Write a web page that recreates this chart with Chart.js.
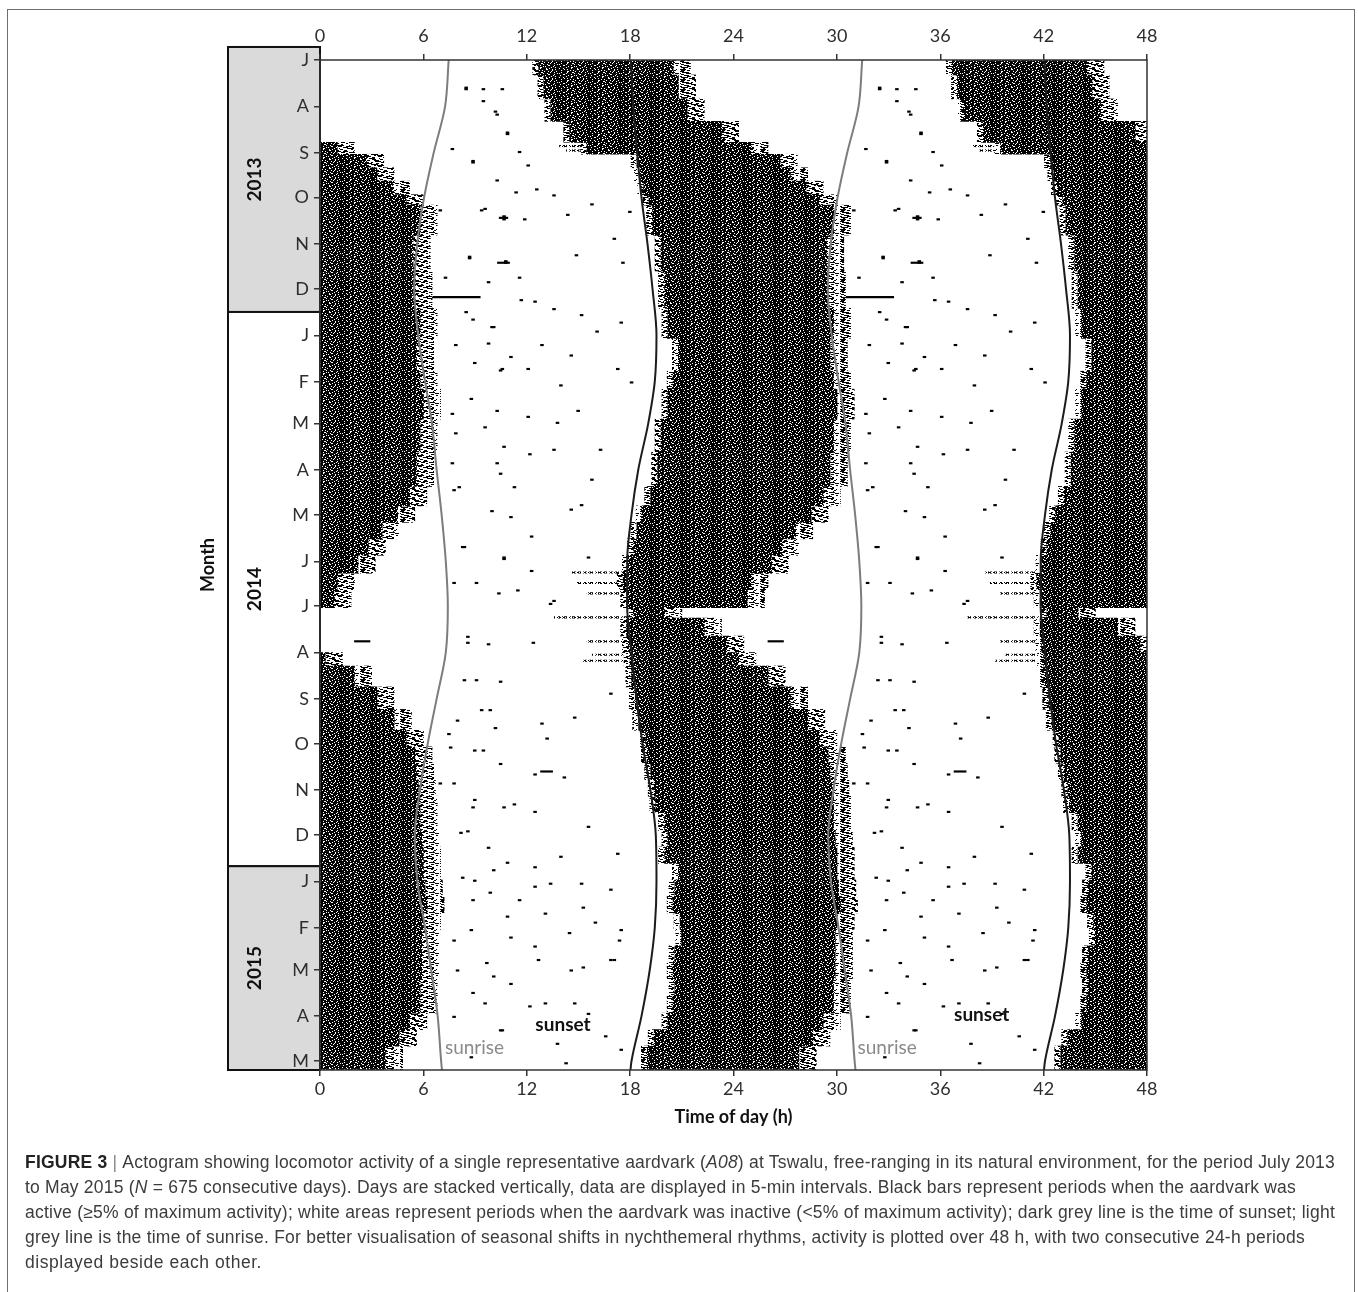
<!DOCTYPE html>
<html lang="en">
<head>
<meta charset="UTF-8">
<title>Actogram A08 Tswalu</title>
<script src="https://cdn.jsdelivr.net/npm/chart.js"></script>
<style>
  html, body { margin: 0; padding: 0; background: #fff; }
  #wrap { position: relative; width: 1358px; height: 1292px; overflow: hidden; }
  #frame { position: absolute; left: 7px; top: 9px; width: 1348px; height: 1300px;
           border: 1.5px solid #6e6e6e; box-sizing: border-box; }
  #chart { position: absolute; left: 0; top: 0; }
  #caption { position: absolute; left: 25px; top: 1150px; color: #3c3c3c;
             font-family: "Liberation Sans", Arial, sans-serif; font-size: 17.5px; line-height: 25px; }
  #caption div { white-space: nowrap; display: table; }
  #caption b { color: #222; }
  #caption .sep { color: #888; }
</style>
</head>
<body>
<div id="wrap">
  <div id="frame"></div>
  <canvas id="chart" width="1358" height="1292"></canvas>
  <div id="caption">
    <div><b>FIGURE 3</b>&nbsp;<span class="sep">|</span>&nbsp;Actogram showing locomotor activity of a single representative aardvark (<i>A08</i>) at Tswalu, free-ranging in its natural environment, for the period July 2013</div>
    <div>to May 2015 (<i>N</i> = 675 consecutive days). Days are stacked vertically, data are displayed in 5-min intervals. Black bars represent periods when the aardvark was</div>
    <div>active (≥5% of maximum activity); white areas represent periods when the aardvark was inactive (&lt;5% of maximum activity); dark grey line is the time of sunset; light</div>
    <div>grey line is the time of sunrise. For better visualisation of seasonal shifts in nychthemeral rhythms, activity is plotted over 48 h, with two consecutive 24-h periods</div>
    <div>displayed beside each other.</div>
  </div>
</div>

<script>
  // days since 1 July 2013 for each month start, and its tick letter
  const monthDays = [0, 31, 62, 92, 123, 153, 184, 215, 243, 274, 304, 335, 365, 396, 427, 457, 488, 518, 549, 580, 608, 639, 669];
  const monthLabels = ['J', 'A', 'S', 'O', 'N', 'D', 'J', 'F', 'M', 'A', 'M', 'J', 'J', 'A', 'S', 'O', 'N', 'D', 'J', 'F', 'M', 'A', 'M'];
  const totalDays = 675;

  // sun times (h) at each month start, last one at the final day
  const sunDays = [...monthDays, totalDays];
  const sunset  = [18.04, 18.18, 18.41, 18.66, 19.01, 19.30, 19.53, 19.43, 19.05, 18.47, 18.08, 17.83,
                   17.83, 18.08, 18.37, 18.72, 19.18, 19.49, 19.53, 19.43, 19.14, 18.66, 18.08, 18.02];
  const sunrise = [7.47, 7.26, 6.60, 6.04, 5.64, 5.47, 5.70, 6.10, 6.50, 6.77, 7.06, 7.30,
                   7.42, 7.30, 6.77, 6.25, 5.80, 5.50, 5.65, 6.10, 6.45, 6.83, 7.03, 7.08];

  // main activity bout, read in blocks of days: start day, onset (h), offset (h, >24 = after midnight)
  const binStart = [0, 10, 26, 41, 55, 63, 72, 81, 90, 97, 117, 141, 166, 186, 208,
                    220, 240, 262, 285, 298, 309, 320, 331, 343, 354, 366, 373, 385, 396, 405, 419, 434,
                    448, 459, 470, 481, 492, 503, 515, 526, 537, 548, 559, 570, 581, 592, 603, 614, 625, 637, 648, 659];
  const onset    = [12.7, 13.0, 13.4, 14.5, 15.5, 18.4, 18.6, 18.8, 19.1, 19.3, 19.8, 20.0, 20.2, 20.8, 20.5,
                    20.2, 19.8, 19.6, 19.2, 18.7, 18.4, 18.2, 17.9, 17.6, 17.8, 18.2, 17.8, 17.9, 18.0, 18.1, 18.3, 18.5,
                    18.9, 19.0, 19.2, 19.4, 19.5, 20.0, 20.2, 20.0, 20.8, 20.6, 20.5, 20.9, 21.0, 20.6, 20.5, 20.6, 20.5, 20.2, 19.4, 19.0];
  const offset   = [20.5, 20.8, 21.3, 23.3, 25.0, 26.7, 27.3, 28.2, 29.0, 29.8, 29.4, 29.5, 29.8, 29.6, 29.8,
                    30.0, 29.8, 29.6, 29.2, 28.5, 27.6, 26.8, 26.2, 25.0, 24.8, 20.0, 22.3, 23.6, 24.3, 26.0, 27.3, 28.3,
                    29.0, 29.5, 29.6, 29.7, 29.8, 29.8, 29.9, 30.0, 30.0, 30.1, 30.2, 30.0, 29.9, 29.9, 29.9, 29.8, 29.8, 29.2, 28.6, 27.8];

  // isolated bouts away from the main block: day, from (h), to (h)
  const boutDay  = [105, 135, 158, 388, 475];
  const boutFrom = [10.4, 10.3, 5.6, 2.0, 12.8];
  const boutTo   = [10.9, 11.0, 9.3, 2.9, 13.5];

  // sparse streaks before onset (winter): day, from (h), to (h)
  const streakDay  = [57, 60, 342, 349, 356, 372, 388, 397, 401];
  const streakFrom = [13.9, 14.3, 14.6, 14.9, 15.5, 13.6, 15.5, 15.8, 15.2];
  const streakTo   = [15.5, 16.0, 17.6, 17.6, 17.8, 18.2, 18.0, 18.0, 18.0];

  // single 5-min active intervals in the resting hours: day, hour of day
  const dotDay  = [70, 86, 90, 96, 101, 103, 106, 119, 130, 135, 161, 166, 170, 175, 181, 190, 197, 206, 215, 206, 217,
                   18, 19, 19, 34, 48, 67, 88, 99, 104, 100, 131, 134, 160, 173, 178, 206, 198,
                   238, 242, 234, 260, 263, 280, 297, 300, 260, 318, 332, 361, 389, 423, 439, 443,
                   226, 234, 249, 269, 325, 332, 285, 349, 354, 389, 414, 434, 441,
                   453, 477, 479, 512, 530, 532, 552, 550, 570, 576, 581, 592, 608, 601, 630, 637, 657, 661,
                   459, 461, 483, 499, 497, 515, 541, 561, 572, 588, 603, 623, 617, 639, 648,
                   19, 27, 36, 49, 59, 68, 61, 80, 100, 106, 135, 132, 145, 148, 145, 168, 178,
                   190, 202, 189, 207, 236, 245, 258, 269, 276, 285, 287, 301, 305, 325, 333, 341, 349, 356, 363,
                   385, 390, 414, 415, 434, 446, 450, 461, 470, 483, 494, 499, 502, 516, 526, 536, 539, 548,
                   546, 556, 561, 550, 566, 554, 581, 586, 583, 588, 608, 612, 601, 606, 601, 630, 632, 630, 648, 652, 670, 666];
  const dotHour = [12.0, 12.5, 13.5, 15.7, 17.9, 14.3, 11.8, 17.0, 14.8, 17.5, 12.4, 13.5, 15.1, 17.4, 16.0, 12.8, 14.5, 17.2, 18.0, 12.0, 13.9,
                   8.4, 9.4, 10.5, 10.1, 10.8, 8.8, 11.3, 9.5, 10.6, 6.9, 8.6, 10.7, 11.6, 8.8, 10.0, 10.5, 11.0,
                   12.0, 13.7, 14.9, 13.5, 12.1, 15.7, 15.1, 14.5, 16.2, 12.2, 15.5, 13.5, 12.3, 16.8, 14.7, 12.8,
                   8.7, 10.2, 7.8, 10.2, 8.3, 10.6, 8.0, 9.0, 11.4, 8.5, 9.0, 9.8, 7.9,
                   13.1, 12.4, 14.1, 15.5, 17.2, 13.9, 12.4, 15.1, 13.0, 15.9, 17.4, 12.4, 14.5, 17.0, 13.0, 15.5, 13.7, 17.4,
                   7.5, 9.4, 6.9, 8.8, 11.2, 8.5, 10.0, 8.8, 10.8, 7.7, 9.6, 8.8, 11.0, 7.7, 10.4,
                   8.4, 9.4, 10.2, 10.8, 7.6, 8.8, 11.5, 10.2, 9.3, 10.6, 10.7, 8.6, 7.2, 9.7, 11.5, 8.4, 9.9,
                   7.8, 8.9, 9.7, 10.4, 7.6, 9.5, 10.6, 7.6, 10.4, 11.2, 7.7, 9.9, 11.0, 8.2, 10.6, 12.2, 7.7, 10.3, 13.3,
                   8.5, 9.7, 8.3, 10.4, 9.3, 10.1, 7.4, 8.9, 10.4, 7.7, 8.9, 10.6, 12.4, 8.1, 9.7, 10.8, 12.4, 8.9,
                   8.2, 9.8, 11.5, 13.3, 15.2, 16.8, 8.7, 11.0, 14.4, 17.3, 7.9, 10.0, 12.6, 15.2, 16.8, 9.5, 12.1, 14.7, 10.5, 16.5, 14.2, 8.7];

  const years = ['2013', '2014', '2015'];
  const yearFrom = [-8.7, 168.4, 538.8];
  const yearTo = [168.4, 538.8, 675];
  const yearFill = ['#dadada', '#ffffff', '#dadada'];

  // sunrise / sunset labels: text, hour, day
  const noteText = ['sunrise', 'sunset', 'sunrise', 'sunset'];
  const noteHour = [7.25, 12.5, 31.2, 36.8];
  const noteDay = [660, 645, 660, 638];

  // ragged edge of the active block (h) and width of one 5-min interval
  const EDGE_BEFORE = 0.35, EDGE_AFTER = 1.0, BIN_H = 5 / 60;

  const canvas = document.getElementById('chart');
  const ctx = canvas.getContext('2d');

  function tile(rows) {
    const c = document.createElement('canvas');
    c.width = rows[0].length; c.height = rows.length;
    const g = c.getContext('2d');
    g.fillStyle = '#000';
    g.fillRect(0, 0, c.width, c.height);
    g.fillStyle = '#fff';
    rows.forEach((r, j) => { for (let i = 0; i < r.length; i++) if (r[i] === '.') g.fillRect(i, j, 1, 1); });
    return ctx.createPattern(c, 'repeat');
  }
  const speckle = tile([
    '###.#####.####..#######.###.###',
    '#.######.#######.###.#########.',
    '#####..######.#######..####.###',
    '##.#######.#####.#.#######.####',
    '########.####..#########.###.##',
    '#.###.#######.#####.##.########',
    '######.##.#########..####.##.##',
    '###.########.##.#########.#####',
    '#########..######.###.##.####.#'
  ]);
  const fringe = tile([
    '.####..###....#####.....###.......##....',
    '####...........######..#####.....#......',
    '..#######..##........####....######.....',
    '#.....######....###.......##.......####.',
    '.###.......#######...##........###......',
    '....#####.....##.#######.....#......##..',
    '##.....####.......####....######........',
    '.#######....###........#####....##......',
    '...##....######....#.......#######......',
    '######......####....###........##...#...'
  ]);
  const dashes = tile(['###..##.#...##..#.###...#.', '#.##..###..#.##..##.#..#..']);

  function binOf(d) {
    let b = 0;
    while (b + 1 < binStart.length && binStart[b + 1] <= d) b++;
    return b;
  }

  const nightRows = [], nextRows = [], morningRows = [], edgeRows = [];
  for (let d = 0; d < totalDays; d++) {
    const b = binOf(d), y = d + 0.5, on = onset[b], off = offset[b];
    nightRows.push({ x: [on, off], y });
    nextRows.push({ x: [on + 24, Math.min(off + 24, 48)], y });
    edgeRows.push({ x: [on - EDGE_BEFORE, on], y }, { x: [on + 24 - EDGE_BEFORE, on + 24], y });
    edgeRows.push({ x: [off, off + EDGE_AFTER], y });
    if (off + 24 < 48) edgeRows.push({ x: [off + 24, Math.min(off + 24 + EDGE_AFTER, 48)], y });
    if (off > 24) {
      morningRows.push({ x: [0, off - 24], y });
      edgeRows.push({ x: [off - 24, off - 24 + EDGE_AFTER], y });
    }
  }
  // everything else appears in both 24-h halves of the double plot
  const twice = (days, from, to) => {
    const rows = [];
    days.forEach((d, i) => {
      rows.push({ x: [from[i], to[i]], y: d + 0.5 });
      rows.push({ x: [from[i] + 24, to[i] + 24], y: d + 0.5 });
    });
    return rows;
  };
  const boutRows = twice(boutDay, boutFrom, boutTo);
  const streakRows = twice(streakDay, streakFrom, streakTo);
  const dotRows = twice(dotDay, dotHour, dotHour.map(h => h + 2 * BIN_H));

  const sunLine = (hours, shift, color) => ({
    type: 'line',
    data: sunDays.map((d, i) => ({ x: hours[i] + shift, y: d })),
    borderColor: color,
    borderWidth: 2,
    pointRadius: 0,
    cubicInterpolationMode: 'monotone',
    order: 0
  });
  const barSet = (rows, fill) => ({
    type: 'bar',
    data: rows,
    backgroundColor: fill,
    borderWidth: 0,
    barPercentage: 1,
    categoryPercentage: 1,
    grouped: false,
    order: 1
  });

  const tickFont = { family: 'Lato', size: 18 };
  const tickColor = '#2e2e2e';

  const decor = {
    id: 'decor',
    beforeDraw(chart) {
      const { ctx, chartArea: a, scales: { y } } = chart;
      ctx.save();
      ctx.lineWidth = 2;
      ctx.strokeStyle = '#111';
      years.forEach((t, i) => {
        const top = y.getPixelForValue(yearFrom[i]);
        const bot = y.getPixelForValue(yearTo[i]);
        ctx.fillStyle = yearFill[i];
        ctx.fillRect(a.left - 92, top, 92, bot - top);
        ctx.strokeRect(a.left - 92, top, 92, bot - top);
      });
      ctx.restore();
    },
    afterDraw(chart) {
      const { ctx, chartArea: a, scales: { x, y } } = chart;
      ctx.save();
      ctx.strokeStyle = '#333';
      ctx.lineWidth = 1.5;
      ctx.strokeRect(a.left, a.top, a.right - a.left, a.bottom - a.top);

      ctx.fillStyle = '#111';
      ctx.font = 'bold 19px Lato';
      ctx.textAlign = 'center';
      ctx.textBaseline = 'middle';
      years.forEach((t, i) => {
        const mid = (y.getPixelForValue(yearFrom[i]) + y.getPixelForValue(yearTo[i])) / 2;
        ctx.save();
        ctx.translate(a.left - 65, mid);
        ctx.rotate(-Math.PI / 2);
        ctx.fillText(t, 0, 0);
        ctx.restore();
      });

      ctx.textAlign = 'left';
      noteText.forEach((t, i) => {
        const rise = t === 'sunrise';
        ctx.font = (rise ? '' : 'bold ') + '19px Lato';
        ctx.fillStyle = rise ? '#8a8a8a' : '#111';
        ctx.fillText(t, x.getPixelForValue(noteHour[i]), y.getPixelForValue(noteDay[i]));
      });
      ctx.restore();
    }
  };

  new Chart(ctx, {
    type: 'bar',
    data: {
      datasets: [
        sunLine(sunset, 0, '#1c1c1c'),
        sunLine(sunset, 24, '#1c1c1c'),
        sunLine(sunrise, 0, '#7d7d7d'),
        sunLine(sunrise, 24, '#7d7d7d'),
        barSet(nightRows, speckle),
        barSet(nextRows, speckle),
        barSet(morningRows, speckle),
        barSet(edgeRows, fringe),
        barSet(boutRows, '#000'),
        barSet(streakRows, dashes),
        barSet(dotRows, '#000')
      ]
    },
    options: {
      indexAxis: 'y',
      responsive: false,
      animation: false,
      events: [],
      layout: { padding: { left: 197, right: 211, top: 10, bottom: 164 } },
      plugins: { legend: { display: false }, tooltip: { enabled: false } },
      scales: {
        x: {
          type: 'linear', position: 'bottom', min: 0, max: 48,
          ticks: { stepSize: 6, font: tickFont, color: tickColor, padding: 2 },
          grid: { drawOnChartArea: false, tickLength: 6, color: '#333', lineWidth: 1.5 },
          border: { display: false },
          title: { display: true, text: 'Time of day (h)', color: '#111',
                   font: { family: 'Lato', size: 18, weight: 'bold' }, padding: 0 },
          afterFit: s => { s.height = 58; }
        },
        x2: {
          type: 'linear', position: 'top', min: 0, max: 48,
          ticks: { stepSize: 6, font: tickFont, color: tickColor, padding: 7 },
          grid: { drawOnChartArea: false, tickLength: 6, color: '#333', lineWidth: 1.5 },
          border: { display: false },
          afterFit: s => { s.height = 50; }
        },
        y: {
          type: 'linear', reverse: true, min: 0, max: totalDays, offset: false,
          afterBuildTicks: s => { s.ticks = monthDays.map(v => ({ value: v })); },
          ticks: { autoSkip: false, font: tickFont, color: tickColor, padding: 5,
                   callback: (v, i) => monthLabels[i] },
          grid: { offset: false, drawOnChartArea: false, tickLength: 6, color: '#333', lineWidth: 1.5 },
          border: { display: false },
          title: { display: true, text: 'Month', color: '#111',
                   font: { family: 'Lato', size: 18, weight: 'bold' }, padding: 0 },
          afterFit: s => { s.width = 123; }
        }
      }
    },
    plugins: [decor]
  });

  // stretch each caption line to the width it has in the printed figure
  const captionRight = [1335, 1296, 1335, 1305, 262];
  function fitCaption() {
    document.querySelectorAll('#caption div').forEach((el, i) => {
      el.style.letterSpacing = '0px';
      const n = el.textContent.length;
      const gap = (captionRight[i] - 25) - el.getBoundingClientRect().width;
      el.style.letterSpacing = (gap / n) + 'px';
    });
  }
  fitCaption();
  if (document.fonts) document.fonts.ready.then(fitCaption);
</script>
</body>
</html>
